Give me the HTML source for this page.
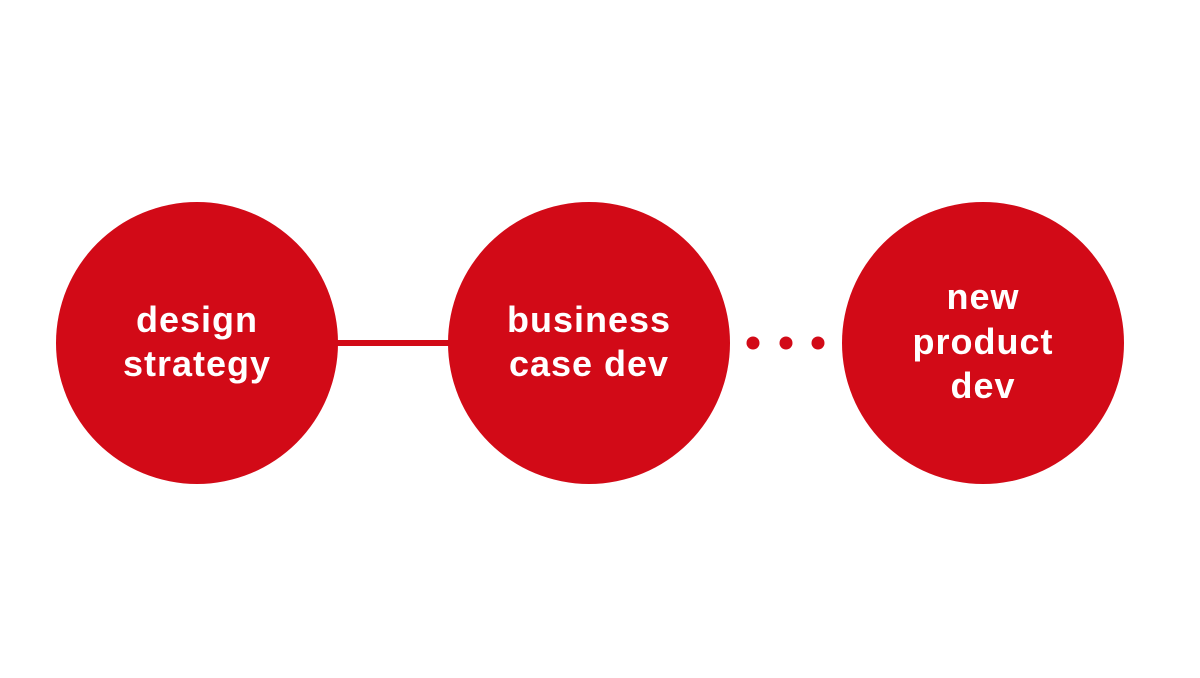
<!DOCTYPE html>
<html><head><style>
html,body{margin:0;padding:0;background:#fff;width:1200px;height:678px;overflow:hidden}
</style></head><body>
<svg width="1200" height="678" xmlns="http://www.w3.org/2000/svg">
<rect width="1200" height="678" fill="#fff"/>
<line x1="330" y1="343" x2="460" y2="343" stroke="#d20a17" stroke-width="6"/>
<circle cx="197" cy="343" r="141" fill="#d20a17"/>
<circle cx="589" cy="343" r="141" fill="#d20a17"/>
<circle cx="983" cy="343" r="141" fill="#d20a17"/>
<circle cx="753" cy="343" r="6.5" fill="#d20a17"/>
<circle cx="786" cy="343" r="6.5" fill="#d20a17"/>
<circle cx="818" cy="343" r="6.5" fill="#d20a17"/>
<g font-family="Liberation Sans, sans-serif" font-weight="bold" font-size="36" letter-spacing="1" fill="#fff" text-anchor="middle">
<text x="197" y="332">design</text>
<text x="197" y="376">strategy</text>
<text x="589" y="332">business</text>
<text x="589" y="376">case dev</text>
<text x="983" y="309">new</text>
<text x="983" y="354">product</text>
<text x="983" y="398">dev</text>
</g>
</svg>
</body></html>
